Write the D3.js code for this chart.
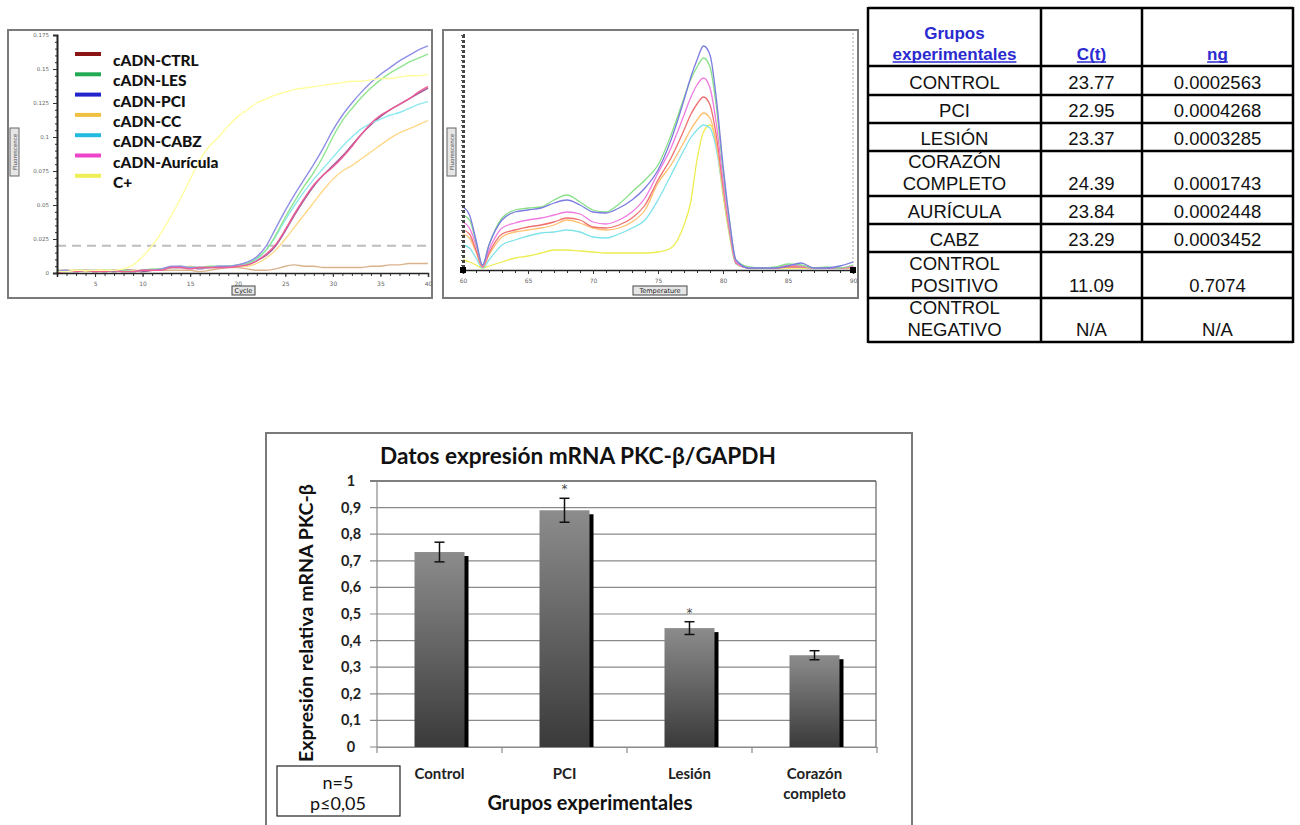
<!DOCTYPE html>
<html><head><meta charset="utf-8">
<script src="https://cdn.jsdelivr.net/npm/d3@7"></script>
<style>body{margin:0;background:#fff;} svg{display:block;}</style>
</head><body><svg id="c" width="1300" height="825"></svg>
<script>
// ---------------- DATA ----------------
// Amplification plot
const ampCycles = [1,2,3,4,5,6,7,8,9,10,11,12,13,14,15,16,17,18,19,20,21,22,23,24,25,26,27,28,29,30,31,32,33,34,35,36,37,38,39,40];
const ampPCI  = [0.001,0.002,0.001,0.002,0.002,0.001,0.002,0.001,0.001,0.002, 0.002,0.003,0.005,0.005,0.004,0.004,0.004,0.005,0.005,0.006, 0.008,0.012,0.020,0.033,0.046,0.058,0.069,0.080,0.092,0.105, 0.116,0.125,0.133,0.140,0.146,0.151,0.156,0.160,0.164,0.167];
const ampLES  = [0.002,0.001,0.002,0.002,0.001,0.002,0.002,0.002,0.001,0.002, 0.003,0.003,0.004,0.005,0.004,0.004,0.005,0.005,0.005,0.006, 0.007,0.011,0.017,0.028,0.041,0.053,0.064,0.074,0.086,0.100, 0.112,0.121,0.129,0.136,0.142,0.147,0.151,0.155,0.158,0.161];
const ampCTRL = [0.001,0.001,0.002,0.002,0.001,0.002,0.001,0.002,0.002,0.001, 0.002,0.003,0.004,0.004,0.004,0.003,0.004,0.004,0.005,0.005, 0.006,0.009,0.013,0.020,0.031,0.043,0.054,0.064,0.072,0.079, 0.086,0.094,0.102,0.109,0.115,0.120,0.124,0.128,0.132,0.136];
const ampAUR  = [0.000,0.001,0.001,0.002,0.001,0.001,0.002,0.001,0.001,0.002, 0.002,0.002,0.004,0.004,0.003,0.004,0.004,0.004,0.004,0.005, 0.006,0.009,0.014,0.021,0.032,0.044,0.055,0.065,0.072,0.078, 0.085,0.093,0.102,0.110,0.116,0.120,0.124,0.128,0.133,0.137];
const ampCC   = [0.001,0.002,0.002,0.001,0.002,0.002,0.002,0.001,0.002,0.002, 0.002,0.003,0.004,0.004,0.005,0.004,0.004,0.004,0.005,0.005, 0.005,0.007,0.011,0.017,0.025,0.034,0.043,0.052,0.061,0.069, 0.075,0.079,0.084,0.089,0.094,0.099,0.103,0.106,0.109,0.112];
const ampCABZ = [0.002,0.001,0.001,0.002,0.002,0.001,0.002,0.002,0.001,0.002, 0.002,0.003,0.004,0.004,0.004,0.004,0.004,0.005,0.005,0.006, 0.007,0.010,0.017,0.027,0.039,0.050,0.060,0.069,0.077,0.085, 0.093,0.100,0.106,0.110,0.113,0.116,0.118,0.121,0.124,0.126];
const ampCPOS = [0.001,0.001,0.002,0.002,0.002,0.002,0.002,0.003,0.006,0.012, 0.020,0.030,0.042,0.055,0.069,0.083,0.093,0.100,0.108,0.115, 0.120,0.125,0.128,0.131,0.133,0.135,0.136,0.137,0.138,0.139, 0.140,0.141,0.141,0.142,0.143,0.143,0.144,0.145,0.145,0.146];
const ampCNEG = [0.002,0.002,0.001,0.002,0.002,0.002,0.001,0.002,0.002,0.001, 0.002,0.002,0.002,0.002,0.002,0.001,0.002,0.003,0.004,0.004, 0.003,0.002,0.002,0.003,0.005,0.006,0.005,0.005,0.004,0.004, 0.004,0.004,0.004,0.005,0.005,0.006,0.006,0.007,0.007,0.007];
const ampThreshold = 0.02;
const ampYTicks  = [0,0.025,0.05,0.075,0.1,0.125,0.15,0.175];
const ampYLabels = ["0","0.025","0.05","0.075","0.1","0.125","0.15","0.175"];
const ampXTicks  = [5,10,15,20,25,30,35,40];
const legendNames  = ["cADN-CTRL","cADN-LES","cADN-PCI","cADN-CC","cADN-CABZ","cADN-Aurícula","C+"];
const legendColors = ["#8b1414","#22aa55","#2323cc","#f0c040","#22bbe0","#ee44cc","#eeee55"];

// Melt curve
const meltTemps = [60,60.5,61,61.5,62,63,64,65,66,67,68,69,70,71,72,73,74,75,76,77,77.5,78,78.5,79,79.5,80,80.5,81,82,83,84,85,86,87,88,89,90];
const meltPCI  = [0.63,0.55,0.30,0.05,0.25, 0.50,0.58,0.60,0.62,0.67,0.70,0.65,0.58,0.57,0.62,0.70,0.82,1.00,1.30,1.70, 1.92, 2.10,2.24,2.15,1.70,1.05,0.50,0.10, 0.02,0.02,0.02,0.04,0.07,0.02,0.02,0.04,0.08];
const meltLES  = [0.55,0.50,0.28,0.05,0.25, 0.52,0.60,0.62,0.63,0.70,0.75,0.68,0.60,0.58,0.66,0.78,0.90,1.05,1.35,1.72, 1.90, 2.03,2.12,2.03,1.62,1.00,0.48,0.10, 0.03,0.02,0.03,0.06,0.05,0.02,0.03,0.02,0.05];
const meltAUR  = [0.48,0.42,0.25,0.04,0.20, 0.42,0.47,0.50,0.52,0.55,0.58,0.56,0.48,0.46,0.50,0.58,0.72,0.97,1.22,1.55, 1.72, 1.85,1.92,1.82,1.45,0.90,0.42,0.08, 0.02,0.02,0.02,0.05,0.04,0.02,0.02,0.02,0.04];
const meltCTRL = [0.40,0.36,0.20,0.03,0.17, 0.36,0.40,0.43,0.45,0.48,0.52,0.50,0.43,0.42,0.45,0.52,0.65,0.90,1.12,1.40, 1.55, 1.66,1.73,1.65,1.33,0.85,0.40,0.07, 0.02,0.02,0.02,0.03,0.03,0.02,0.02,0.02,0.03];
const meltCC   = [0.36,0.32,0.18,0.03,0.15, 0.33,0.38,0.40,0.42,0.45,0.50,0.47,0.42,0.40,0.42,0.48,0.60,0.87,1.05,1.28, 1.40, 1.50,1.57,1.52,1.25,0.80,0.38,0.07, 0.02,0.02,0.02,0.03,0.04,0.02,0.02,0.02,0.03];
const meltCABZ = [0.25,0.22,0.12,0.02,0.10, 0.25,0.30,0.34,0.37,0.38,0.40,0.38,0.33,0.32,0.36,0.42,0.50,0.70,0.95,1.20, 1.32, 1.40,1.45,1.42,1.20,0.78,0.36,0.06, 0.02,0.02,0.02,0.03,0.03,0.02,0.02,0.02,0.03];
const meltCPOS = [0.10,0.08,0.05,0.02,0.04, 0.08,0.12,0.14,0.17,0.20,0.20,0.19,0.18,0.17,0.17,0.17,0.17,0.18,0.22,0.45, 0.67, 1.10,1.38,1.45,1.25,0.75,0.34,0.06, 0.02,0.02,0.02,0.02,0.02,0.02,0.02,0.02,0.02];
const meltXTicks = [60,65,70,75,80,85,90];

// Table
const tableHeader = [["Grupos","experimentales"],["C(t)"],["ng"]];
const tableGroups = [["CONTROL"],["PCI"],["LESIÓN"],["CORAZÓN","COMPLETO"],["AURÍCULA"],["CABZ"],["CONTROL","POSITIVO"],["CONTROL","NEGATIVO"]];
const tableCt = ["23.77","22.95","23.37","24.39","23.84","23.29","11.09","N/A"];
const tableNg = ["0.0002563","0.0004268","0.0003285","0.0001743","0.0002448","0.0003452","0.7074","N/A"];

// Bar chart
const barCategories = ["Control","PCI","Lesión","Corazón completo"];
const barLabelLines = [["Control"],["PCI"],["Lesión"],["Corazón","completo"]];
const barValues = [0.733, 0.890, 0.447, 0.345];
const barErrors = [0.037, 0.045, 0.024, 0.017];
const barSignificant = [false, true, true, false];
const barYTicks = [0,0.1,0.2,0.3,0.4,0.5,0.6,0.7,0.8,0.9,1];

// ---------------- DRAW ----------------
const svg = d3.select("#c");
svg.append("rect").attr("width",1300).attr("height",825).attr("fill","#fff");
function fitWidth(sel, w){ const L = sel.node().getComputedTextLength(); const fs = parseFloat(sel.attr("font-size")); sel.attr("font-size", (fs*w/L).toFixed(2)); }

// ===== Amplification plot =====
(function(){
  const g = svg.append("g");
  g.append("rect").attr("x",8).attr("y",30).attr("width",424).attr("height",268)
    .attr("fill","#fff").attr("stroke","#7a7a7a").attr("stroke-width",2);
  const x = d3.scaleLinear().domain([1,40]).range([57,428]);
  const y = d3.scaleLinear().domain([0,0.175]).range([273,35]);
  g.append("clipPath").attr("id","ampclip").append("rect").attr("x",57).attr("y",31).attr("width",374).attr("height",244);
  g.append("line").attr("x1",x(1)).attr("x2",x(40)).attr("y1",y(ampThreshold)).attr("y2",y(ampThreshold))
    .attr("stroke","#bdbdbd").attr("stroke-width",2).attr("stroke-dasharray","9,6");
  const line = d3.line().x((d,i)=>x(ampCycles[i])).y(d=>y(d)).curve(d3.curveMonotoneX);
  const series = [
    [ampCNEG,"#d9b38c"],[ampCTRL,"#9a5a9a"],[ampCC,"#ffd98a"],[ampCABZ,"#8fe9f0"],
    [ampLES,"#8fe68f"],[ampPCI,"#8f8fe6"],[ampAUR,"#ee5c96"],[ampCPOS,"#ffffa0"]
  ];
  const cg = g.append("g").attr("clip-path","url(#ampclip)");
  series.forEach(s=>cg.append("path").attr("d",line(s[0])).attr("fill","none").attr("stroke",s[1]).attr("stroke-width",1.4));
  const yMinor = d3.axisLeft(y).ticks(35).tickSize(2).tickFormat("");
  g.append("g").attr("transform","translate(57,0)").call(yMinor).call(a=>a.selectAll("line,path").attr("stroke","#333"));
  const yAxis = d3.axisLeft(y).tickValues(ampYTicks).tickSize(4).tickFormat((d,i)=>ampYLabels[i]);
  g.append("g").attr("transform","translate(57,0)").call(yAxis)
    .call(a=>a.select("path").attr("stroke","#222").attr("stroke-width",2))
    .call(a=>a.selectAll("line").attr("stroke","#333"))
    .call(a=>a.selectAll("text").attr("font-size",5.5).attr("fill","#666").attr("font-family","DejaVu Sans").attr("x",-8));
  const xMinor = d3.axisBottom(x).tickValues(ampCycles).tickSize(3).tickFormat("");
  g.append("g").attr("transform","translate(0,273)").call(xMinor).call(a=>a.selectAll("line,path").attr("stroke","#333"));
  const xAxis = d3.axisBottom(x).tickValues(ampXTicks).tickSize(4).tickFormat(d3.format("d"));
  g.append("g").attr("transform","translate(0,273)").call(xAxis)
    .call(a=>a.select("path").attr("stroke","#222").attr("stroke-width",1.5))
    .call(a=>a.selectAll("line").attr("stroke","#333"))
    .call(a=>a.selectAll("text").attr("font-size",6).attr("fill","#666").attr("font-family","DejaVu Sans").attr("y",9));
  g.append("rect").attr("x",10).attr("y",128).attr("width",9).attr("height",48).attr("fill","#e6e6e6").attr("stroke","#666");
  g.append("text").attr("transform","translate(16.5,152) rotate(-90)").attr("text-anchor","middle")
    .attr("font-size",5.5).attr("font-family","DejaVu Sans").attr("fill","#444").text("Fluorescence");
  g.append("rect").attr("x",232).attr("y",286).attr("width",23).attr("height",9).attr("fill","#e6e6e6").attr("stroke","#444");
  g.append("text").attr("x",243.5).attr("y",293).attr("text-anchor","middle")
    .attr("font-size",6.5).attr("font-family","DejaVu Sans").attr("fill","#222").text("Cycle");
  const lg = g.append("g");
  legendNames.forEach((n,i)=>{
    const yy = 54 + i*20.3;
    lg.append("line").attr("x1",75).attr("x2",101).attr("y1",yy).attr("y2",yy).attr("stroke",legendColors[i]).attr("stroke-width",4);
    lg.append("text").attr("x",113).attr("y",yy+12).attr("font-family","Lato").attr("font-weight",900)
      .attr("font-size",15.5).attr("fill","#111").text(n);
  });
})();

// ===== Melt curve =====
(function(){
  const g = svg.append("g");
  g.append("rect").attr("x",443).attr("y",30).attr("width",415).attr("height",268)
    .attr("fill","#fff").attr("stroke","#7a7a7a").attr("stroke-width",2);
  const x = d3.scaleLinear().domain([60,90]).range([463,853]);
  const y = d3.scaleLinear().domain([0,2.35]).range([270,35]);
  g.append("line").attr("x1",853).attr("x2",853).attr("y1",33).attr("y2",270).attr("stroke","#aaa").attr("stroke-dasharray","2,2");
  const line = d3.line().x((d,i)=>x(meltTemps[i])).y(d=>y(d)).curve(d3.curveMonotoneX);
  const series = [
    [meltCPOS,"#eded50"],[meltCABZ,"#7fe3ea"],[meltCC,"#ffc070"],[meltCTRL,"#f07070"],
    [meltAUR,"#f07ae0"],[meltLES,"#86e086"],[meltPCI,"#7b7be0"]
  ];
  series.forEach(s=>g.append("path").attr("d",line(s[0])).attr("fill","none").attr("stroke",s[1]).attr("stroke-width",1.3));
  const yMinor = d3.axisLeft(y).ticks(47).tickSize(2).tickFormat("");
  g.append("g").attr("transform","translate(463,0)").call(yMinor)
    .call(a=>a.select("path").attr("stroke","#444").attr("stroke-width",3).attr("stroke-dasharray","3,2"))
    .call(a=>a.selectAll("line").attr("stroke","#555"));
  const xMinor = d3.axisBottom(x).ticks(30).tickSize(3).tickFormat("");
  g.append("g").attr("transform","translate(0,270)").call(xMinor).call(a=>a.selectAll("line,path").attr("stroke","#333"));
  const xAxis = d3.axisBottom(x).tickValues(meltXTicks).tickSize(4).tickFormat(d3.format("d"));
  g.append("g").attr("transform","translate(0,270)").call(xAxis)
    .call(a=>a.select("path").attr("stroke","#222").attr("stroke-width",1.5))
    .call(a=>a.selectAll("line").attr("stroke","#333"))
    .call(a=>a.selectAll("text").attr("font-size",6).attr("fill","#666").attr("font-family","DejaVu Sans").attr("y",9));
  [60,90].forEach(t=>g.append("rect").attr("x",x(t)-3).attr("y",267).attr("width",6).attr("height",6).attr("fill","#000"));
  g.append("rect").attr("x",447).attr("y",128).attr("width",9).attr("height",48).attr("fill","#e6e6e6").attr("stroke","#666");
  g.append("text").attr("transform","translate(453.5,152) rotate(-90)").attr("text-anchor","middle")
    .attr("font-size",5.5).attr("font-family","DejaVu Sans").attr("fill","#444").text("Fluorescence");
  g.append("rect").attr("x",633).attr("y",286).attr("width",54).attr("height",9).attr("fill","#e6e6e6").attr("stroke","#444");
  g.append("text").attr("x",660).attr("y",293).attr("text-anchor","middle")
    .attr("font-size",6.5).attr("font-family","DejaVu Sans").attr("fill","#222").text("Temperature");
})();

// ===== Table =====
(function(){
  const g = svg.append("g");
  const cols = [868,1041,1142,1293];
  const rows = [8,66,95,123,151,196,224,252,298,342];
  const cx = [(cols[0]+cols[1])/2,(cols[1]+cols[2])/2,(cols[2]+cols[3])/2];
  cols.forEach(c=>g.append("line").attr("x1",c).attr("x2",c).attr("y1",rows[0]-1).attr("y2",rows[rows.length-1]+1).attr("stroke","#000").attr("stroke-width",2.5));
  rows.forEach(r=>g.append("line").attr("x1",cols[0]).attr("x2",cols[3]).attr("y1",r).attr("y2",r).attr("stroke","#000").attr("stroke-width",2.5));
  const blue = "#2a2ad0";
  tableHeader.forEach((lines,ci)=>{
    lines.forEach((t,li)=>{
      const by = rows[1]-6 - (lines.length-1-li)*21;
      const tx = g.append("text").attr("x",cx[ci]).attr("y",by).attr("text-anchor","middle")
        .attr("font-family","Liberation Sans").attr("font-weight","bold").attr("font-size",17).attr("fill",blue).text(t);
      if(li===lines.length-1){
        const w = tx.node().getComputedTextLength();
        g.append("line").attr("x1",cx[ci]-w/2).attr("x2",cx[ci]+w/2).attr("y1",by+2).attr("y2",by+2).attr("stroke",blue).attr("stroke-width",1.5);
      }
    });
  });
  const cellText = (x, by, t)=> g.append("text").attr("x",x).attr("y",by).attr("text-anchor","middle")
      .attr("font-family","Liberation Sans").attr("font-size",18.5).attr("fill","#111").text(t);
  tableGroups.forEach((lines,ri)=>{
    const bottom = rows[ri+2];
    lines.forEach((t,li)=> cellText(cx[0], bottom-6-(lines.length-1-li)*22, t));
    cellText(cx[1], bottom-6, tableCt[ri]);
    cellText(cx[2], bottom-6, tableNg[ri]);
  });
})();

// ===== Bar chart =====
(function(){
  const g = svg.append("g");
  g.append("rect").attr("x",266).attr("y",433).attr("width",646).attr("height",400)
    .attr("fill","#fff").attr("stroke","#7a7a7a").attr("stroke-width",2);
  const x = d3.scaleBand().domain(barCategories).range([377,877]).paddingInner(0.6).paddingOuter(0.3);
  const y = d3.scaleLinear().domain([0,1]).range([747,481]);
  const fmt = d3.formatLocale({decimal:",",thousands:".",grouping:[3],currency:["","€"]}).format(".1~f");
  g.append("g").selectAll("line").data(barYTicks).join("line")
    .attr("x1",370).attr("x2",876).attr("y1",d=>y(d)).attr("y2",d=>y(d))
    .attr("stroke",d=>d===1?"#555":"#8a8a8a").attr("stroke-width",d=>d===1?1.5:1.2);
  g.append("line").attr("x1",876).attr("x2",876).attr("y1",481).attr("y2",747).attr("stroke","#666").attr("stroke-width",1.2);
  g.append("line").attr("x1",377).attr("x2",377).attr("y1",481).attr("y2",747).attr("stroke","#8a8a8a").attr("stroke-width",1.2);
  g.append("g").selectAll("text").data(barYTicks).join("text")
    .attr("x",351).attr("y",d=>y(d)+5).attr("text-anchor","middle")
    .attr("font-family","Lato").attr("font-weight","bold").attr("font-size",14.5).attr("fill","#222").text(d=>fmt(d));
  const xAxis = d3.axisBottom(x).tickSize(0).tickFormat("");
  g.append("g").attr("transform","translate(0,747)").call(xAxis).call(a=>a.select("path").attr("stroke","#8a8a8a").attr("stroke-width",1.2));
  g.append("g").selectAll("line").data(barCategories.map((c,i)=>i===0?377:x(c)-x.step()*0.3).concat([877])).join("line")
    .attr("x1",d=>d).attr("x2",d=>d).attr("y1",747).attr("y2",753).attr("stroke","#8a8a8a").attr("stroke-width",1.2);
  const defs = svg.append("defs");
  const gr = defs.append("linearGradient").attr("id","bargrad").attr("x1",0).attr("y1",0).attr("x2",0).attr("y2",1);
  gr.append("stop").attr("offset","0%").attr("stop-color","#8c8c8c");
  gr.append("stop").attr("offset","100%").attr("stop-color","#3a3a3a");
  const bw = x.bandwidth();
  g.append("g").selectAll("rect").data(barValues).join("rect")
    .attr("x",(d,i)=>x(barCategories[i])+4).attr("y",d=>y(d)+4).attr("width",bw).attr("height",d=>747-y(d)-4).attr("fill","#000");
  g.append("g").selectAll("rect").data(barValues).join("rect")
    .attr("x",(d,i)=>x(barCategories[i])).attr("y",d=>y(d)).attr("width",bw).attr("height",d=>747-y(d)).attr("fill","url(#bargrad)");
  barValues.forEach((v,i)=>{
    const cx = x(barCategories[i])+bw/2, e = barErrors[i];
    const eg = g.append("g").attr("stroke","#111").attr("stroke-width",1.5);
    eg.append("line").attr("x1",cx).attr("x2",cx).attr("y1",y(v+e)).attr("y2",y(v-e));
    eg.append("line").attr("x1",cx-5).attr("x2",cx+5).attr("y1",y(v+e)).attr("y2",y(v+e));
    eg.append("line").attr("x1",cx-5).attr("x2",cx+5).attr("y1",y(v-e)).attr("y2",y(v-e));
    if(barSignificant[i]) g.append("text").attr("x",cx).attr("y",y(v+e)-5).attr("text-anchor","middle")
      .attr("font-family","DejaVu Sans").attr("font-size",12).attr("fill","#444").text("*");
  });
  const cl = g.append("g");
  barLabelLines.forEach((lines,i)=>{
    const cx = x(barCategories[i])+bw/2;
    lines.forEach((t,li)=>cl.append("text").attr("x",cx).attr("y",779+li*20).attr("text-anchor","middle")
      .attr("font-family","Lato").attr("font-weight","bold").attr("font-size",15).attr("fill","#222").text(t));
  });
  const title = g.append("text").attr("x",578).attr("y",464).attr("text-anchor","middle")
    .attr("font-family","Lato").attr("font-weight","bold").attr("font-size",19).attr("fill","#111").text("Datos expresión mRNA PKC-β/GAPDH");
  fitWidth(title, 396);
  const yt = g.append("text").attr("transform","translate(313,623) rotate(-90)").attr("text-anchor","middle")
    .attr("font-family","Lato").attr("font-weight","bold").attr("font-size",15).attr("fill","#111").text("Expresión relativa mRNA PKC-β");
  fitWidth(yt, 278);
  const xt = g.append("text").attr("x",590).attr("y",810).attr("text-anchor","middle")
    .attr("font-family","Lato").attr("font-weight","bold").attr("font-size",15).attr("fill","#111").text("Grupos experimentales");
  fitWidth(xt, 205);
  g.append("rect").attr("x",277).attr("y",766).attr("width",123).attr("height",50).attr("fill","#fff").attr("stroke","#222").attr("stroke-width",1.2);
  g.append("text").attr("x",338).attr("y",789).attr("text-anchor","middle").attr("font-family","Lato").attr("font-size",18).attr("fill","#111").text("n=5");
  g.append("text").attr("x",338).attr("y",810).attr("text-anchor","middle").attr("font-family","Lato").attr("font-size",18).attr("fill","#111").text("p≤0,05");
})();
</script></body></html>
